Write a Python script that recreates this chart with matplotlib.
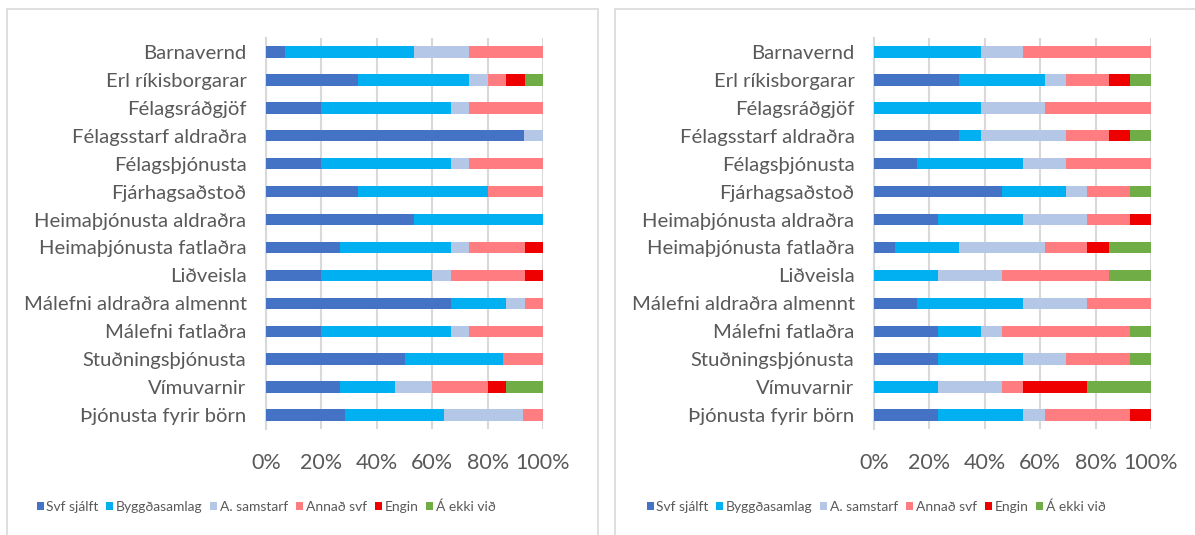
import matplotlib
matplotlib.use("Agg")
import matplotlib.pyplot as plt
from matplotlib.patches import Rectangle, Patch

plt.rcParams['font.family'] = ['Lato', 'DejaVu Sans']

categories = ["Barnavernd", "Erl ríkisborgarar", "Félagsráðgjöf", "Félagsstarf aldraðra",
              "Félagsþjónusta", "Fjárhagsaðstoð", "Heimaþjónusta aldraðra",
              "Heimaþjónusta fatlaðra", "Liðveisla", "Málefni aldraðra almennt",
              "Málefni fatlaðra", "Stuðningsþjónusta", "Vímuvarnir", "Þjónusta fyrir börn"]
series_names = ["Svf sjálft", "Byggðasamlag", "A. samstarf", "Annað svf", "Engin", "Á ekki við"]
colors = ["#4472C4", "#00B0F0", "#B4C7E7", "#FF7C80", "#EE0000", "#70AD47"]

# left chart (percent), columns = series
left_svf = [6.7, 33.3, 20.0, 93.3, 20.0, 33.3, 53.3, 26.7, 20.0, 66.7, 20.0, 50.0, 26.7, 28.6]
left_byg = [46.7, 40.0, 46.7, 0.0, 46.7, 46.7, 46.7, 40.0, 40.0, 20.0, 46.7, 35.7, 20.0, 35.7]
left_sam = [20.0, 6.7, 6.7, 6.7, 6.7, 0.0, 0.0, 6.7, 6.7, 6.7, 6.7, 0.0, 13.3, 28.6]
left_ann = [26.7, 6.7, 26.7, 0.0, 26.7, 20.0, 0.0, 20.0, 26.7, 6.7, 26.7, 14.3, 20.0, 7.1]
left_eng = [0.0, 6.7, 0.0, 0.0, 0.0, 0.0, 0.0, 6.7, 6.7, 0.0, 0.0, 0.0, 6.7, 0.0]
left_aev = [0.0, 6.7, 0.0, 0.0, 0.0, 0.0, 0.0, 0.0, 0.0, 0.0, 0.0, 0.0, 13.3, 0.0]

# right chart (percent)
right_svf = [0.0, 30.8, 0.0, 30.8, 15.4, 46.2, 23.1, 7.7, 0.0, 15.4, 23.1, 23.1, 0.0, 23.1]
right_byg = [38.5, 30.8, 38.5, 7.7, 38.5, 23.1, 30.8, 23.1, 23.1, 38.5, 15.4, 30.8, 23.1, 30.8]
right_sam = [15.4, 7.7, 23.1, 30.8, 15.4, 7.7, 23.1, 30.8, 23.1, 23.1, 7.7, 15.4, 23.1, 7.7]
right_ann = [46.2, 15.4, 38.5, 15.4, 30.8, 15.4, 15.4, 15.4, 38.5, 23.1, 46.2, 23.1, 7.7, 30.8]
right_eng = [0.0, 7.7, 0.0, 7.7, 0.0, 0.0, 7.7, 7.7, 0.0, 0.0, 0.0, 0.0, 23.1, 7.7]
right_aev = [0.0, 7.7, 0.0, 7.7, 0.0, 7.7, 0.0, 15.4, 15.4, 0.0, 7.7, 7.7, 23.1, 0.0]

xticks = [0, 20, 40, 60, 80, 100]
xtick_labels = ["0%", "20%", "40%", "60%", "80%", "100%"]

W, H = 1195, 535
fig = plt.figure(figsize=(W / 100, H / 100), dpi=100)

# panel borders
for x0, x1 in [(7, 598), (615, 1200)]:
    fig.patches.append(Rectangle((x0 / W, -0.05), (x1 - x0) / W, (H - 9) / H + 0.05,
                                 transform=fig.transFigure, fill=False,
                                 edgecolor="#D9D9D9", linewidth=1.2))

text_color = "#595959"


def draw(ax_left, data):
    ax = fig.add_axes([ax_left / W, (H - 429) / H, 277 / W, 391 / H])
    y = list(range(len(categories)))
    cum = [0.0] * len(categories)
    for vals, c, name in zip(data, colors, series_names):
        ax.barh(y, vals, left=cum, height=0.41, color=c, label=name, zorder=3)
        cum = [a + b for a, b in zip(cum, vals)]
    ax.set_ylim(len(categories) - 0.5, -0.5)
    ax.set_xlim(0, 100)
    ax.set_yticks(y)
    ax.set_yticklabels(categories, fontsize=14.6, color=text_color)
    ax.set_xticks(xticks)
    ax.set_xticklabels(xtick_labels, fontsize=15.5, color=text_color)
    ax.tick_params(axis='both', length=0)
    ax.tick_params(axis='y', pad=14)
    ax.tick_params(axis='x', pad=17)
    for s in ["top", "right", "bottom"]:
        ax.spines[s].set_visible(False)
    ax.spines["left"].set_color("#D9D9D9")
    ax.spines["left"].set_linewidth(1.5)
    ax.grid(axis='x', color="#D9D9D9", linewidth=1.5, zorder=0)
    ax.set_axisbelow(True)
    return ax


draw(266, [left_svf, left_byg, left_sam, left_ann, left_eng, left_aev])
draw(874, [right_svf, right_byg, right_sam, right_ann, right_eng, right_aev])

handles = [Patch(facecolor=c, label=n) for c, n in zip(colors, series_names)]
for cx in [266, 876]:
    fig.legend(handles=handles, loc="center", bbox_to_anchor=(cx / W, (H - 507) / H),
               ncol=6, frameon=False, fontsize=10, handlelength=0.5, handleheight=0.5,
               handletextpad=0.2, columnspacing=0.55, labelcolor=text_color)

fig.savefig("out.png", dpi=100)
